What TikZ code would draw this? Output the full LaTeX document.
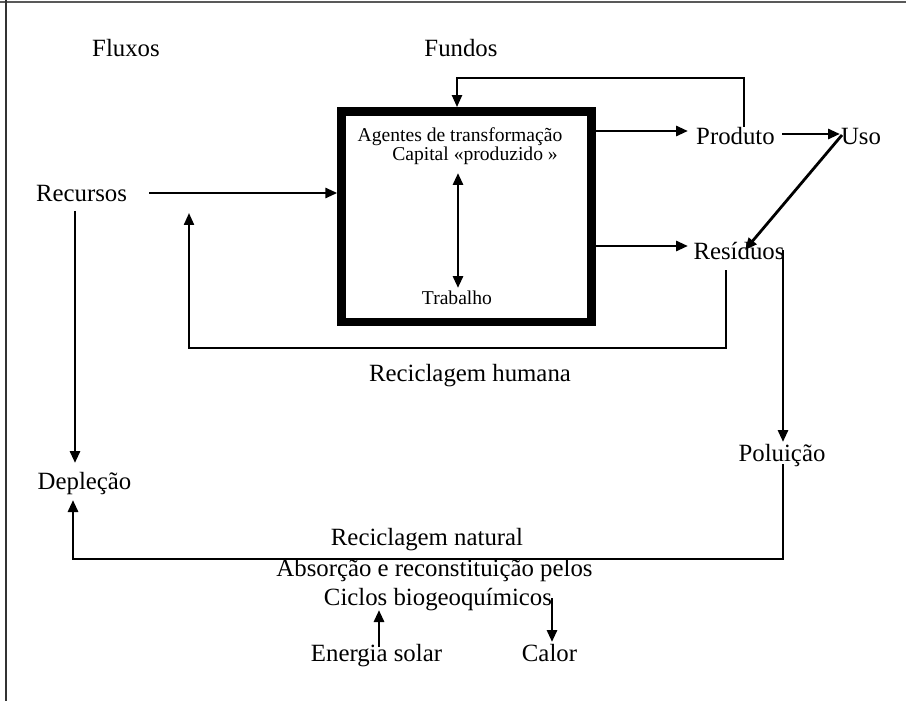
\documentclass[tikz,border=0pt]{standalone}
\usepackage{fontspec}
\setmainfont{Liberation Serif}
\usetikzlibrary{arrows.meta,calc}

\tikzset{
    lbl/.style={font=\fontsize{12.4}{14}\selectfont, inner sep=0pt, anchor=base},
    boxlbl/.style={font=\fontsize{9.8}{11}\selectfont, inner sep=0pt, anchor=base},
    flow/.style={line width=1.4pt, -{Triangle[length=6pt,width=5pt]}},
    loop/.style={line width=1.1pt, -{Triangle[length=6pt,width=5pt]}},
}

\begin{document}
\begin{tikzpicture}[x=0.5pt, y=-0.5pt]

    \useasboundingbox (0,0) rectangle (906,701);

    %% Frame
    \draw[line width=1pt, black!65] (0,2.5) -- (906,2.5);
    \draw[line width=1pt, black!80] (5.5,0) -- (5.5,701);

    %% Column heads
    \node[lbl] (fluxos) at (126,57) {Fluxos};
    \node[lbl] (fundos) at (461,57) {Fundos};

    % Funds box
    \node[draw, line width=4.4pt, minimum width=124.7pt, minimum height=105.2pt, inner sep=0pt] (box) at (466.4,216.7) {};
    \node[boxlbl] (agentes) at (460,142) {Agentes de transformação};
    \node[boxlbl] (cap) at (475,161) {Capital «produzido »};
    \node[boxlbl] (trab) at (457,304) {Trabalho};
    \draw[flow, {Triangle[length=6pt,width=5pt]}-{Triangle[length=6pt,width=5pt]}] ($(cap.base)+(-17,12)$) -- ($(trab.base)+(1,-16)$);

    % Flows
    \node[lbl] (rec) at (81.5,202) {Recursos};
    \node[lbl] (dep) at (84.5,489) {Depleção};
    \node[lbl] (prod) at (735.5,145) {Produto};
    \node[lbl] (uso) at (861,145) {Uso};
    \node[lbl] (res) at (739,260) {Resíduos};
    \node[lbl] (pol) at (782,461) {Poluição};

    \draw[flow] ($(rec.base)+(67.5,-9)$) -- ($(box.west |- rec.base)+(0,-9)$);
    \draw[flow] ($(box.east |- prod.base)+(0,-14)$) -- ($(prod.base)+(-47.5,-14)$);
    \draw[flow] ($(box.east |- res.base)+(0,-14)$) -- ($(res.base)+(-51,-14)$);
    \draw[flow] ($(prod.base)+(46.5,-11)$) -- ($(uso.base)+(-21,-11)$);
    \draw[flow] ($(uso.base)+(-19,-10)$) -- ($(res.base)+(6,-10)$);
    \draw[flow] ($(res.base)+(44,-10)$) -- ($(pol.base)+(1,-19)$);
    \draw[flow] ($(rec.base)+(-6.5,9)$) -- ($(dep.base)+(-9.5,-26)$);

    % Product fed back into the funds
    \draw[loop] ($(prod.base)+(8.5,-18)$) |- ($(box.north)+(-9.4,-29)$) -- ($(box.north)+(-9.4,0)$);

    % Human recycling
    \draw[loop] ($(res.base)+(-13,10)$) |- ($(rec.base)+(107.5,146)$) -- ($(rec.base)+(107.5,11)$);
    \node[lbl] (hum) at (470,381) {Reciclagem humana};

    % Natural recycling
    \node[lbl] (nat) at (427,545) {Reciclagem natural};
    \node[lbl] (abs) at (434.5,576) {Absorção e reconstituição pelos};
    \node[lbl] (ciclos) at (438,605) {Ciclos biogeoquímicos};
    \draw[flow] ($(pol.base)+(1,3)$) |- ($(dep.base)+(-11.5,70)$) -- ($(dep.base)+(-11.5,11)$);

    % Energy in and out
    \node[lbl] (sol) at (376.5,661) {Energia solar};
    \node[lbl] (cal) at (549.5,661) {Calor};
    \draw[flow] ($(sol.base)+(2.5,-14)$) -- ($(ciclos.base)+(-59,5)$);
    \draw[flow] ($(ciclos.base)+(114,-7)$) -- ($(cal.base)+(2.5,-19)$);

\end{tikzpicture}
\end{document}
